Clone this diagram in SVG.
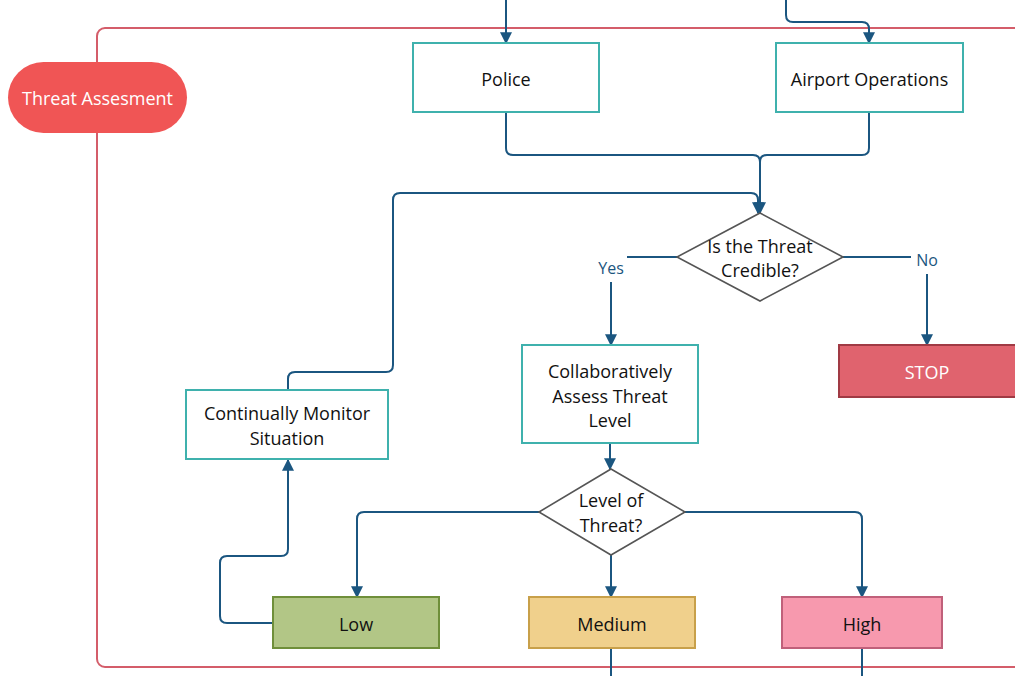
<svg xmlns="http://www.w3.org/2000/svg" width="1015" height="676" viewBox="0 0 1015 676">
<defs>
<marker id="ah" viewBox="0 0 10 10" refX="9" refY="5" markerWidth="12" markerHeight="12" markerUnits="userSpaceOnUse" orient="auto">
<path d="M0,0 L10,5 L0,10 z" fill="#1b5680"/>
</marker>
</defs>
<style>
text{font-family:"Open Sans","Noto Sans","Liberation Sans",sans-serif;font-size:18px;font-weight:500;fill:#111;text-anchor:middle;dominant-baseline:central}
.proc{fill:#fff;stroke:#3fb1ad;stroke-width:2}
.dec{fill:#fff;stroke:#555;stroke-width:1.6}
.conn{fill:none;stroke:#1b5680;stroke-width:2}
.lbl{fill:#1b5680;font-size:16px}
.wt{fill:#fff}
</style>
<rect width="1015" height="676" fill="#fff"/>
<rect id="frame" x="97" y="28" width="960" height="639" rx="8" fill="none" stroke="#d45d6a" stroke-width="2"/>
<g id="connectors">
<path class="conn" d="M506,0 V43" marker-end="url(#ah)"/>
<path class="conn" d="M786,0 V15 Q786,22 793,22 H862 Q869,22 869,29 V43" marker-end="url(#ah)"/>
<path class="conn" d="M506,112 V148 Q506,155 513,155 H753 Q760,155 760,162"/>
<path class="conn" d="M869,112 V148 Q869,155 862,155 H767 Q760,155 760,162 V213" marker-end="url(#ah)"/>
<path class="conn" d="M288,390 V379 Q288,372 295,372 H386 Q393,372 393,365 V200 Q393,193 400,193 H751 Q758,193 758,200 V213" marker-end="url(#ah)"/>
<path class="conn" d="M677,257 H627"/>
<path class="conn" d="M611,282 V345" marker-end="url(#ah)"/>
<text class="lbl" x="611" y="268">Yes</text>
<path class="conn" d="M843,257 H911"/>
<path class="conn" d="M927,274 V345" marker-end="url(#ah)"/>
<text class="lbl" x="927" y="260">No</text>
<path class="conn" d="M610,443 V469" marker-end="url(#ah)"/>
<path class="conn" d="M539,512 H364 Q357,512 357,519 V597" marker-end="url(#ah)"/>
<path class="conn" d="M611,555 V597" marker-end="url(#ah)"/>
<path class="conn" d="M685,512 H855 Q862,512 862,519 V597" marker-end="url(#ah)"/>
<path class="conn" d="M273,623 H227 Q220,623 220,616 V563 Q220,556 227,556 H281 Q288,556 288,549 V460" marker-end="url(#ah)"/>
<path class="conn" d="M611,648 V676"/>
<path class="conn" d="M862,648 V676"/>
</g>
<g id="threat-assessment">
<rect x="8" y="62" width="179" height="71" rx="35.5" fill="#f05555"/>
<text class="wt" x="97.5" y="98">Threat Assesment</text>
</g>
<g id="police">
<rect class="proc" x="413" y="43" width="186" height="69"/>
<text x="506" y="79">Police</text>
</g>
<g id="airport-operations">
<rect class="proc" x="776" y="43" width="187" height="69"/>
<text x="869.5" y="79">Airport Operations</text>
</g>
<g id="credible">
<path class="dec" d="M760,213 L843,257 L760,301 L677,257 Z"/>
<text x="760" y="246">Is the Threat</text>
<text x="760" y="270">Credible?</text>
</g>
<g id="stop">
<rect x="839" y="345" width="190" height="52" fill="#e0636e" stroke="#a03a44" stroke-width="2"/>
<text class="wt" x="927" y="372">STOP</text>
</g>
<g id="assess">
<rect class="proc" x="522" y="345" width="176" height="98"/>
<text x="610" y="371">Collaboratively</text>
<text x="610" y="396">Assess Threat</text>
<text x="610" y="420">Level</text>
</g>
<g id="monitor">
<rect class="proc" x="186" y="390" width="202" height="69"/>
<text x="287" y="413">Continually Monitor</text>
<text x="287" y="438">Situation</text>
</g>
<g id="level">
<path class="dec" d="M611,469 L685,512 L611,555 L539,512 Z"/>
<text x="611" y="500">Level of</text>
<text x="611" y="525">Threat?</text>
</g>
<g id="low">
<rect x="273" y="597" width="166" height="51" fill="#b2c686" stroke="#6f8f3a" stroke-width="2"/>
<text x="356" y="624">Low</text>
</g>
<g id="medium">
<rect x="529" y="597" width="166" height="51" fill="#f0d08c" stroke="#c8a04a" stroke-width="2"/>
<text x="612" y="624">Medium</text>
</g>
<g id="high">
<rect x="782" y="597" width="160" height="51" fill="#f799ae" stroke="#c0607a" stroke-width="2"/>
<text x="862" y="624">High</text>
</g>
</svg>
